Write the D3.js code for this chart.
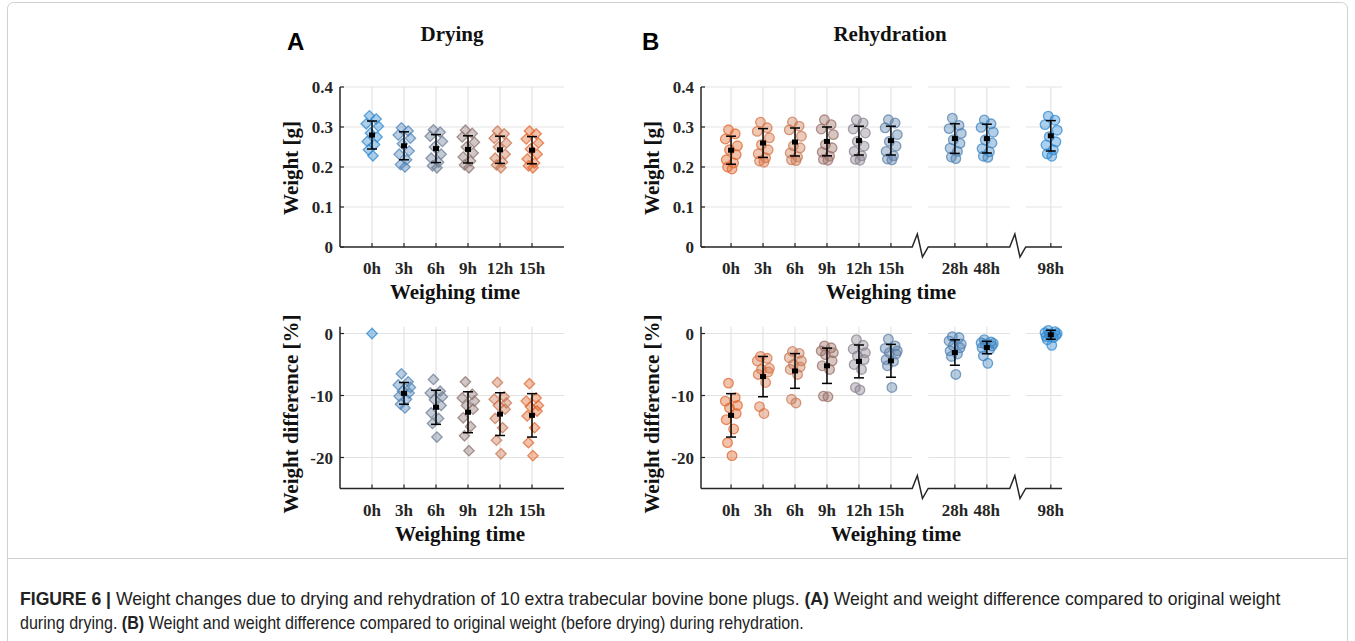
<!DOCTYPE html>
<html><head><meta charset="utf-8">
<script src="https://cdn.jsdelivr.net/npm/d3@7"></script>
<style>
html,body{margin:0;padding:0;background:#fff;}
svg{display:block;}
</style></head>
<body>
<svg id="chart" width="1355" height="641"></svg>
<script>
// ---------------- DATA ----------------
const categoriesA = ["0h","3h","6h","9h","12h","15h"];
const categoriesB = ["0h","3h","6h","9h","12h","15h","28h","48h","98h"];
const yTicksWeight = [0, 0.1, 0.2, 0.3, 0.4];
const yTickLabelsWeight = ["0","0.1","0.2","0.3","0.4"];
const yTicksDiff = [-20, -10, 0];
const yTickLabelsDiff = ["-20","-10","0"];

// Drying – weight [g] (10 plugs per time)
const dryWeight = [
  [0.328,0.320,0.308,0.302,0.285,0.275,0.264,0.256,0.243,0.228],
  [0.298,0.290,0.280,0.272,0.258,0.240,0.232,0.218,0.206,0.200],
  [0.293,0.287,0.277,0.264,0.250,0.232,0.222,0.212,0.203,0.198],
  [0.292,0.284,0.275,0.262,0.250,0.235,0.225,0.215,0.205,0.198],
  [0.290,0.283,0.272,0.260,0.250,0.232,0.222,0.212,0.205,0.198],
  [0.290,0.283,0.270,0.260,0.245,0.232,0.220,0.210,0.203,0.198]
];
const dryWeightMean = [0.280,0.253,0.246,0.244,0.243,0.242];
const dryWeightSD   = [0.035,0.035,0.035,0.034,0.034,0.034];

// Drying – weight difference [%]
const dryDiff = [
  [0,0,0,0,0,0,0,0,0,0],
  [-6.5,-7.8,-8.3,-8.7,-9.3,-9.6,-10.1,-10.6,-11.4,-12.0],
  [-7.4,-9.3,-9.6,-10.2,-10.7,-11.6,-12.8,-13.7,-14.5,-16.7],
  [-7.8,-9.8,-10.4,-10.9,-11.6,-12.2,-13.6,-15.0,-16.5,-18.9],
  [-7.9,-10.2,-10.6,-11.2,-11.6,-12.2,-13.7,-15.2,-17.2,-19.4],
  [-8.1,-10.4,-10.9,-11.6,-11.8,-12.5,-13.3,-15.2,-17.6,-19.7]
];
const dryDiffMean = [0,-9.65,-11.9,-12.7,-13.0,-13.2];
const dryDiffSD   = [0,1.75,2.75,3.3,3.45,3.5];

// Rehydration – weight [g]
const rehWeight = [
  [0.293,0.283,0.270,0.253,0.243,0.231,0.218,0.210,0.200,0.195],
  [0.312,0.298,0.289,0.273,0.256,0.243,0.233,0.223,0.215,0.212],
  [0.3125,0.302,0.293,0.277,0.253,0.248,0.235,0.225,0.218,0.216],
  [0.318,0.306,0.295,0.281,0.256,0.248,0.237,0.227,0.219,0.217],
  [0.318,0.310,0.295,0.285,0.264,0.252,0.239,0.228,0.219,0.217],
  [0.318,0.310,0.298,0.281,0.264,0.252,0.239,0.228,0.220,0.218],
  [0.322,0.304,0.296,0.284,0.268,0.259,0.247,0.239,0.225,0.221],
  [0.3175,0.308,0.299,0.287,0.268,0.260,0.246,0.238,0.227,0.224],
  [0.327,0.317,0.306,0.292,0.276,0.263,0.255,0.243,0.233,0.227]
];
const rehWeightMean = [0.242,0.260,0.2625,0.264,0.266,0.266,0.271,0.271,0.278];
const rehWeightSD   = [0.035,0.036,0.035,0.036,0.036,0.036,0.037,0.036,0.038];

// Rehydration – weight difference [%]
const rehDiff = [
  [-8.0,-10.35,-10.9,-11.6,-12.0,-12.9,-13.9,-15.4,-17.6,-19.7],
  [-3.7,-4.0,-4.4,-5.6,-5.8,-6.2,-6.6,-7.9,-11.8,-12.9],
  [-2.9,-3.2,-3.9,-4.4,-5.0,-5.4,-5.8,-6.6,-10.6,-11.2],
  [-2.0,-2.3,-2.8,-3.1,-3.4,-4.4,-5.2,-5.8,-10.1,-10.2],
  [-1.0,-1.9,-2.5,-3.1,-3.6,-4.2,-5.0,-5.8,-8.7,-9.1],
  [-0.9,-2.0,-2.4,-2.8,-3.1,-3.3,-4.2,-4.5,-5.2,-8.7],
  [-0.5,-0.65,-1.2,-1.7,-2.0,-2.3,-2.8,-3.3,-3.7,-6.6],
  [-1.0,-1.35,-1.5,-1.6,-1.7,-2.0,-2.3,-2.6,-3.6,-4.8],
  [0.5,0.3,0.15,0.0,-0.1,-0.3,-0.5,-0.65,-1.0,-1.9]
];
const rehDiffMean = [-13.2,-6.95,-6.04,-5.2,-4.5,-4.4,-3.07,-2.26,-0.2];
const rehDiffSD   = [3.5,3.25,2.8,2.85,2.65,2.65,2.05,1.0,0.72];

// ---------------- STYLE / LAYOUT ----------------
const colorsA = ["#2f88cf","#4f84b8","#6c7c95","#8d7470","#c9744f","#e2672d"];
const colorsB = ["#e2672d","#d87446","#c97a56","#9a6f67","#8a8290","#5c80a8","#4f82b4","#3f86c3","#2f8ad2"];
const posA = [1,2,3,4,5,6];
const posB = [0,1,2,3,4,5,7,8,10];
const breaksB = [5.9, 8.95];
const jitter = [-0.08,0.13,-0.18,0.2,-0.05,0.16,-0.15,0.08,-0.11,0.03];

const serif = "'Liberation Serif','Times New Roman',serif";
const sans = "'Liberation Sans',Arial,sans-serif";
const axisColor = "#262626";
const gridColor = "#e3e3e3";

const svg = d3.select("#chart");

// frame
svg.append("rect").attr("x",7.5).attr("y",2.5).attr("width",1340).attr("height",650)
  .attr("rx",6).attr("fill","none").attr("stroke","#d0d0d0");
svg.append("line").attr("x1",7.5).attr("x2",1347.5).attr("y1",558.5).attr("y2",558.5)
  .attr("stroke","#d0d0d0");

// scales
const xA = d3.scaleLinear().domain([0,7]).range([340,564]);
const xB = d3.scaleLinear().domain([-0.94,10.35]).range([701,1062]);
const yW = d3.scaleLinear().domain([0,0.4]).range([247,87]);
const yD = d3.scaleLinear().domain([-25,1.1]).range([488.5,326.7]);

const diamond = (cx,cy,s) => `M${cx},${cy-s}L${cx+s},${cy}L${cx},${cy+s}L${cx-s},${cy}Z`;

function panel(opt){
  const g = svg.append("g");
  const {x,y,pos,cats,yTicks,yLabels,breaks} = opt;
  const x0 = x.range()[0], x1 = x.range()[1];
  const yb = y.range()[0], yt = y.range()[1];
  const gaps = (breaks||[]).map(b => [x(b)-7.5, x(b)+8.5]);
  function hSegments(){
    const segs=[]; let s=x0;
    gaps.forEach(gp=>{segs.push([s,gp[0]]); s=gp[1];});
    segs.push([s,x1]); return segs;
  }
  yTicks.forEach(t=>{
    if (y(t) > yb-1) return;
    hSegments().forEach(sg=>{
      g.append("line").attr("x1",sg[0]).attr("x2",sg[1]).attr("y1",y(t)).attr("y2",y(t))
        .attr("stroke",gridColor).attr("stroke-width",1.2);
    });
  });
  pos.forEach(p=>{
    g.append("line").attr("x1",x(p)).attr("x2",x(p)).attr("y1",yt).attr("y2",yb)
      .attr("stroke",gridColor).attr("stroke-width",1.2);
  });
  g.append("line").attr("x1",x0).attr("x2",x0).attr("y1",yt).attr("y2",yb)
    .attr("stroke",axisColor).attr("stroke-width",1.5);
  let path = `M${x0},${yb}`;
  gaps.forEach(gp=>{
    const a=gp[0], w=gp[1]-gp[0];
    path += `L${a},${yb}L${a+w*0.32},${yb-13}L${a+w*0.64},${yb+10}L${a+w},${yb}`;
  });
  path += `L${x1},${yb}`;
  g.append("path").attr("d",path).attr("fill","none").attr("stroke",axisColor).attr("stroke-width",1.5);
  pos.forEach(p=>{
    g.append("line").attr("x1",x(p)).attr("x2",x(p)).attr("y1",yb).attr("y2",yb-4)
      .attr("stroke",axisColor).attr("stroke-width",1.2);
  });
  yTicks.forEach(t=>{
    g.append("line").attr("x1",x0).attr("x2",x0+4).attr("y1",y(t)).attr("y2",y(t))
      .attr("stroke",axisColor).attr("stroke-width",1.2);
  });
  cats.forEach((c,i)=>{
    g.append("text").attr("x",x(pos[i])).attr("y",yb+27).attr("text-anchor","middle")
      .attr("font-family",serif).attr("font-weight","bold").attr("font-size",17)
      .attr("fill",axisColor).text(c);
  });
  yTicks.forEach((t,i)=>{
    g.append("text").attr("x",x0-7).attr("y",y(t)+6).attr("text-anchor","end")
      .attr("font-family",serif).attr("font-weight","bold").attr("font-size",17)
      .attr("fill",axisColor).text(yLabels[i]);
  });
  g.append("text").attr("x",opt.xLabelX).attr("y",yb+52).attr("text-anchor","middle")
    .attr("font-family",serif).attr("font-weight","bold").attr("font-size",21)
    .attr("fill","#111").text("Weighing time");
  g.append("text").attr("transform",`translate(${x0-42},${opt.yLabelY}) rotate(-90)`)
    .attr("text-anchor","middle").attr("font-family",serif).attr("font-weight","bold")
    .attr("font-size",21).attr("fill","#111").text(opt.yTitle);
  // points (identical positions drawn once)
  opt.values.forEach((vals,i)=>{
    const col = opt.colors[i];
    const spread = opt.sd[i] > 0 ? 1 : 0;
    const seen = new Set();
    vals.forEach((v,j)=>{
      const cx = x(pos[i] + jitter[j]*spread), cy = y(v);
      const key = cx.toFixed(1)+","+cy.toFixed(1);
      if (seen.has(key)) return;
      seen.add(key);
      if (opt.marker === "diamond"){
        g.append("path").attr("d",diamond(cx,cy,5.2))
          .attr("fill",col).attr("fill-opacity",0.4)
          .attr("stroke",col).attr("stroke-opacity",0.75).attr("stroke-width",1.3);
      } else {
        g.append("circle").attr("cx",cx).attr("cy",cy).attr("r",4.8)
          .attr("fill",col).attr("fill-opacity",0.4)
          .attr("stroke",col).attr("stroke-opacity",0.75).attr("stroke-width",1.3);
      }
    });
  });
  opt.mean.forEach((m,i)=>{
    const cx = x(pos[i]), s = opt.sd[i];
    if (s > 0){
      g.append("line").attr("x1",cx).attr("x2",cx).attr("y1",y(m+s)).attr("y2",y(m-s))
        .attr("stroke","#000").attr("stroke-width",1.5);
      [m+s,m-s].forEach(v=>{
        g.append("line").attr("x1",cx-5).attr("x2",cx+5).attr("y1",y(v)).attr("y2",y(v))
          .attr("stroke","#000").attr("stroke-width",1.5);
      });
      g.append("rect").attr("x",cx-3).attr("y",y(m)-2.5).attr("width",6).attr("height",5).attr("fill","#000");
    }
  });
}

panel({x:xA,y:yW,pos:posA,cats:categoriesA,yTicks:yTicksWeight,yLabels:yTickLabelsWeight,
  values:dryWeight,mean:dryWeightMean,sd:dryWeightSD,colors:colorsA,marker:"diamond",
  xLabelX:455,yLabelY:168,yTitle:"Weight [g]"});
panel({x:xA,y:yD,pos:posA,cats:categoriesA,yTicks:yTicksDiff,yLabels:yTickLabelsDiff,
  values:dryDiff,mean:dryDiffMean,sd:dryDiffSD,colors:colorsA,marker:"diamond",
  xLabelX:460,yLabelY:414,yTitle:"Weight difference [%]"});
panel({x:xB,y:yW,pos:posB,cats:categoriesB,yTicks:yTicksWeight,yLabels:yTickLabelsWeight,
  values:rehWeight,mean:rehWeightMean,sd:rehWeightSD,colors:colorsB,marker:"circle",breaks:breaksB,
  xLabelX:891,yLabelY:168,yTitle:"Weight [g]"});
panel({x:xB,y:yD,pos:posB,cats:categoriesB,yTicks:yTicksDiff,yLabels:yTickLabelsDiff,
  values:rehDiff,mean:rehDiffMean,sd:rehDiffSD,colors:colorsB,marker:"circle",breaks:breaksB,
  xLabelX:896,yLabelY:414,yTitle:"Weight difference [%]"});

// titles
svg.append("text").attr("x",452).attr("y",41).attr("text-anchor","middle")
  .attr("font-family",serif).attr("font-weight","bold").attr("font-size",21).attr("fill","#111").text("Drying");
svg.append("text").attr("x",890).attr("y",41).attr("text-anchor","middle")
  .attr("font-family",serif).attr("font-weight","bold").attr("font-size",21).attr("fill","#111").text("Rehydration");
svg.append("text").attr("x",287).attr("y",50)
  .attr("font-family",sans).attr("font-weight","bold").attr("font-size",24).attr("fill","#000").text("A");
svg.append("text").attr("x",642).attr("y",50)
  .attr("font-family",sans).attr("font-weight","bold").attr("font-size",24).attr("fill","#000").text("B");

// caption (condensed by horizontal scaling to the reference width)
function captionLine(parts, y, targetW){
  const t = svg.append("text").attr("x",0).attr("y",0).attr("font-family",sans)
    .attr("font-size",17.5).attr("fill","#222");
  parts.forEach(p=>{
    const s = t.append("tspan").text(p[0]);
    if (p[1]) s.attr("font-weight","bold");
  });
  const w = t.node().getBBox().width;
  t.attr("transform",`translate(20,${y}) scale(${targetW/w},1)`);
}
captionLine([["FIGURE 6 | ",true],["Weight changes due to drying and rehydration of 10 extra trabecular bovine bone plugs. ",false],["(A)",true],[" Weight and weight difference compared to original weight",false]],605,1261);
captionLine([["during drying. ",false],["(B)",true],[" Weight and weight difference compared to original weight (before drying) during rehydration.",false]],629,784);
</script>
</body></html>
